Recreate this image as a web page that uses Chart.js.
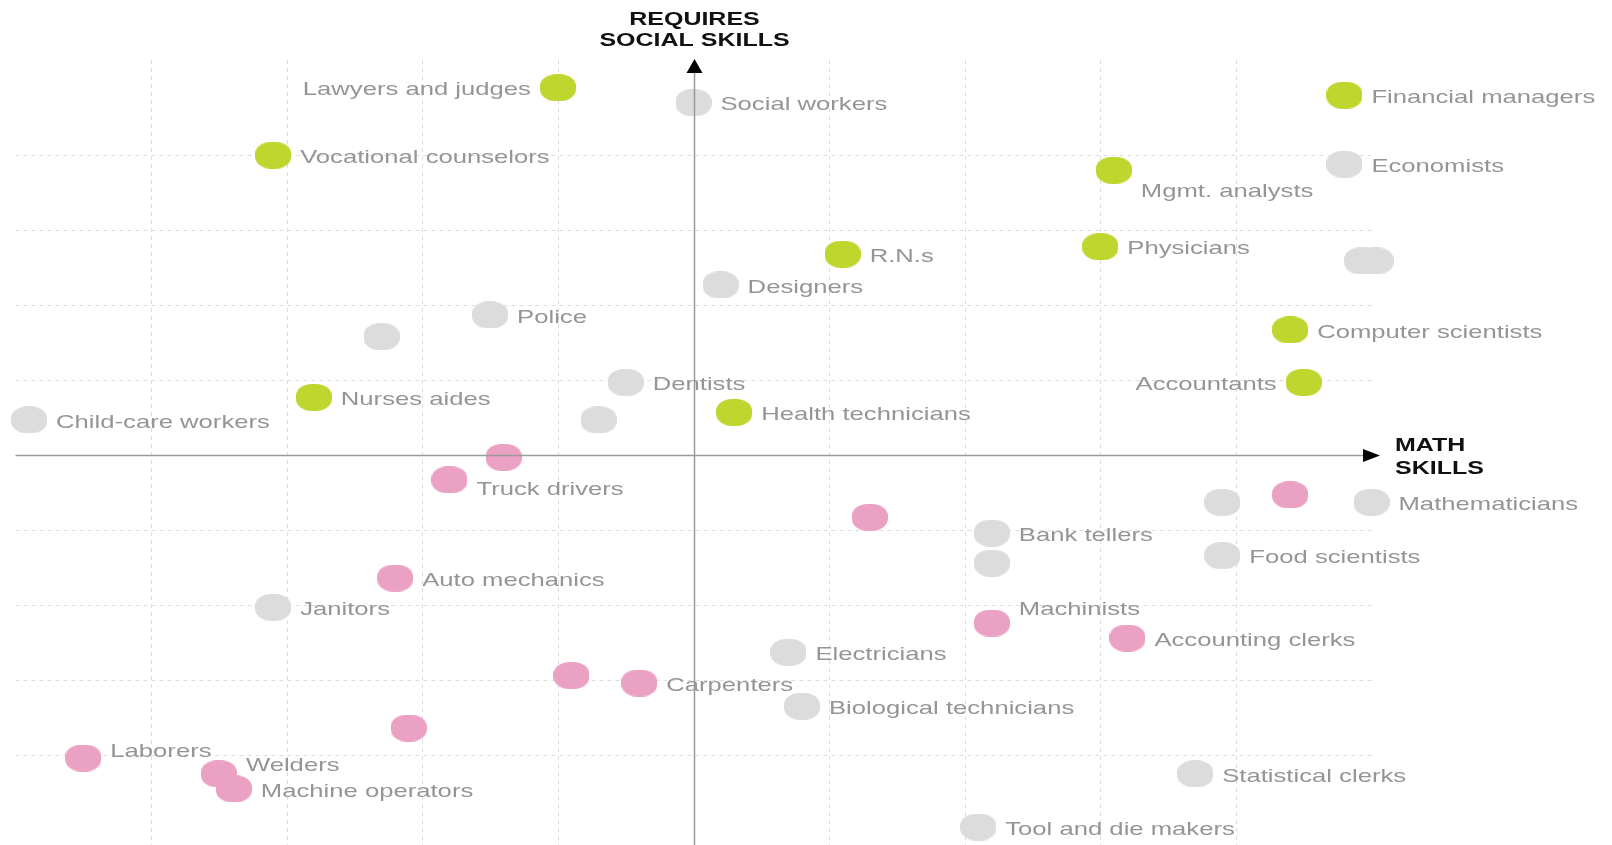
<!DOCTYPE html>
<html>
<head>
<meta charset="utf-8">
<script src="https://cdn.jsdelivr.net/npm/chart.js@4.4.0/dist/chart.umd.min.js"></script>
<style>
    html, body { margin: 0; padding: 0; background: #fff; overflow: hidden; }
    #skillsChart { display: block; width: 1612px; height: 845px; }
</style>
</head>
<body>
<canvas id="skillsChart" width="1612" height="845"></canvas>
<script>
// Occupations and their skill scores (0 = average)
const jobs = [
    'Lawyers and judges', 'Social workers', 'Financial managers', 'Vocational counselors',
    'Economists', 'Mgmt. analysts', 'R.N.s', 'Physicians', '', '', 'Designers', 'Police', '',
    'Computer scientists', 'Accountants', 'Dentists', 'Nurses aides', 'Child-care workers', '',
    'Health technicians', '', 'Truck drivers', 'Auto mechanics', 'Janitors', '', 'Bank tellers',
    '', '', '', 'Mathematicians', 'Food scientists', 'Machinists', 'Accounting clerks',
    'Electricians', 'Biological technicians', 'Statistical clerks', 'Tool and die makers',
    'Carpenters', '', '', 'Laborers', 'Welders', 'Machine operators'
];
const mathSkills = [
    -1.0, 0.0, 4.8, -3.1,
    4.8, 3.1, 1.1, 3.0, 4.93, 5.03, 0.2, -1.5, -2.3,
    4.4, 4.5, -0.5, -2.8, -4.9, -0.7,
    0.3, -1.4, -1.8, -2.2, -3.1, 1.3, 2.2,
    2.2, 3.9, 4.4, 5.0, 3.9, 2.2, 3.2,
    0.7, 0.8, 3.7, 2.1,
    -0.4, -0.9, -2.1, -4.5, -3.5, -3.39
];
const socialSkills = [
    4.9, 4.7, 4.8, 4.0,
    3.88, 3.8, 2.68, 2.78, 2.59, 2.59, 2.27, 1.87, 1.58,
    1.67, 0.97, 0.97, 0.77, 0.47, 0.47,
    0.57, -0.03, -0.33, -1.64, -2.03, -0.83, -1.04,
    -1.44, -0.63, -0.53, -0.63, -1.34, -2.24, -2.44,
    -2.63, -3.35, -4.25, -4.96,
    -3.04, -2.94, -3.64, -4.04, -4.25, -4.45
];
const groups = [
    'grew', 'other', 'grew', 'grew',
    'other', 'grew', 'grew', 'grew', 'other', 'other', 'other', 'other', 'other',
    'grew', 'grew', 'other', 'grew', 'other', 'other',
    'grew', 'shrank', 'shrank', 'shrank', 'other', 'shrank', 'other',
    'other', 'other', 'shrank', 'other', 'other', 'shrank', 'shrank',
    'other', 'other', 'other', 'other',
    'shrank', 'shrank', 'shrank', 'shrank', 'shrank', 'shrank'
];
const gridSteps = [-4, -3, -2, -1, 1, 2, 3, 4];

const groupColors = { grew: '#bfd62f', shrank: '#eba1c3', other: '#dcdcdc' };

// label placement tweaks
const labelsOnLeft = ['Lawyers and judges', 'Accountants'];
const labelNudge = { 'Mgmt. analysts': 19, 'Machinists': -16, 'Laborers': -9, 'Welders': -11, 'Truck drivers': 7 };

// the picture is stretched sideways, so text and dots are too
const STRETCH = 1.35;

const drawText = (ctx, text, x, y, align) => {
    ctx.save();
    ctx.translate(x, y);
    ctx.scale(STRETCH, 1);
    ctx.textAlign = align;
    ctx.textBaseline = 'middle';
    ctx.fillText(text, 0, 0);
    ctx.restore();
};

// rounded blob used as point style
const makeDot = (color) => {
    const c = document.createElement('canvas');
    c.width = 36;
    c.height = 27;
    const g = c.getContext('2d');
    g.scale(36 / 27, 1);
    const s = 27, r = 12;
    g.beginPath();
    g.moveTo(r, 0);
    g.arcTo(s, 0, s, s, r);
    g.arcTo(s, s, 0, s, r);
    g.arcTo(0, s, 0, 0, r);
    g.arcTo(0, 0, s, 0, r);
    g.closePath();
    g.fillStyle = color;
    g.fill();
    return c;
};

const buildDataset = (group) => {
    const data = [];
    jobs.forEach((name, i) => {
        if (groups[i] === group) {
            data.push({ x: mathSkills[i], y: socialSkills[i], name: name });
        }
    });
    return {
        label: group,
        data: data,
        pointStyle: makeDot(groupColors[group]),
        pointRadius: 14,
        pointHoverRadius: 14,
        clip: false,
    };
};

const gridPlugin = {
    id: 'dashedGrid',
    beforeDatasetsDraw(chart) {
        const { ctx, chartArea: a, scales: { x, y } } = chart;
        ctx.save();
        ctx.strokeStyle = '#dddddd';
        ctx.lineWidth = 1;
        ctx.setLineDash([4, 4]);
        gridSteps.forEach((v) => {
            const px = Math.round(x.getPixelForValue(v)) + 0.5;
            ctx.beginPath();
            ctx.moveTo(px, a.top);
            ctx.lineTo(px, a.bottom);
            ctx.stroke();
            const py = Math.round(y.getPixelForValue(v)) + 0.5;
            ctx.beginPath();
            ctx.moveTo(a.left, py);
            ctx.lineTo(a.right, py);
            ctx.stroke();
        });
        ctx.restore();
    },
};

const labelPlugin = {
    id: 'jobLabels',
    afterDatasetsDraw(chart) {
        const { ctx, chartArea: a, scales: { x, y } } = chart;
        ctx.save();
        ctx.font = '19px "Liberation Sans", Arial, sans-serif';
        ctx.fillStyle = '#959595';
        chart.data.datasets.forEach((ds, di) => {
            const meta = chart.getDatasetMeta(di);
            ds.data.forEach((d, i) => {
                if (!d.name) return;
                const pt = meta.data[i];
                const dy = (labelNudge[d.name] || 0) + 2.5;
                if (labelsOnLeft.includes(d.name)) {
                    drawText(ctx, d.name, pt.x - 27, pt.y + dy, 'right');
                } else {
                    drawText(ctx, d.name, pt.x + 27, pt.y + dy, 'left');
                }
            });
        });

        // axes through zero with arrows
        const x0 = Math.round(x.getPixelForValue(0)) + 0.5;
        const y0 = Math.round(y.getPixelForValue(0)) + 0.5;
        const tipY = a.top - 1;
        const tipX = a.right + 8.5;
        ctx.strokeStyle = '#9a9a9a';
        ctx.lineWidth = 1.5;
        ctx.beginPath();
        ctx.moveTo(x0, tipY + 12);
        ctx.lineTo(x0, a.bottom);
        ctx.moveTo(a.left, y0);
        ctx.lineTo(tipX - 14, y0);
        ctx.stroke();

        ctx.fillStyle = '#000';
        ctx.beginPath();
        ctx.moveTo(x0, tipY);
        ctx.lineTo(x0 + 8, tipY + 14);
        ctx.lineTo(x0 - 8, tipY + 14);
        ctx.closePath();
        ctx.fill();
        ctx.beginPath();
        ctx.moveTo(tipX, y0);
        ctx.lineTo(tipX - 17, y0 - 6.5);
        ctx.lineTo(tipX - 17, y0 + 6.5);
        ctx.closePath();
        ctx.fill();

        // axis titles
        ctx.font = 'bold 18.5px "Liberation Sans", Arial, sans-serif';
        ctx.fillStyle = '#111';
        drawText(ctx, 'REQUIRES', x0, 19.5, 'center');
        drawText(ctx, 'SOCIAL SKILLS', x0, 40.5, 'center');
        drawText(ctx, 'MATH', tipX + 15, y0 - 10, 'left');
        drawText(ctx, 'SKILLS', tipX + 15, y0 + 13, 'left');
        ctx.restore();
    },
};

const chart = new Chart(document.getElementById('skillsChart'), {
    type: 'scatter',
    data: {
        datasets: ['other', 'grew', 'shrank'].map(buildDataset),
    },
    options: {
        responsive: false,
        maintainAspectRatio: false,
        devicePixelRatio: 1,
        animation: false,
        events: [],
        layout: {
            autoPadding: false,
            padding: { left: 15.5, right: 240.5, top: 60, bottom: 0 },
        },
        scales: {
            x: { display: false, min: -5, max: 5 },
            y: { display: false, min: -5.2, max: 5.27 },
        },
        plugins: {
            legend: { display: false },
            tooltip: { enabled: false },
        },
    },
    plugins: [gridPlugin, labelPlugin],
});
</script>
</body>
</html>
